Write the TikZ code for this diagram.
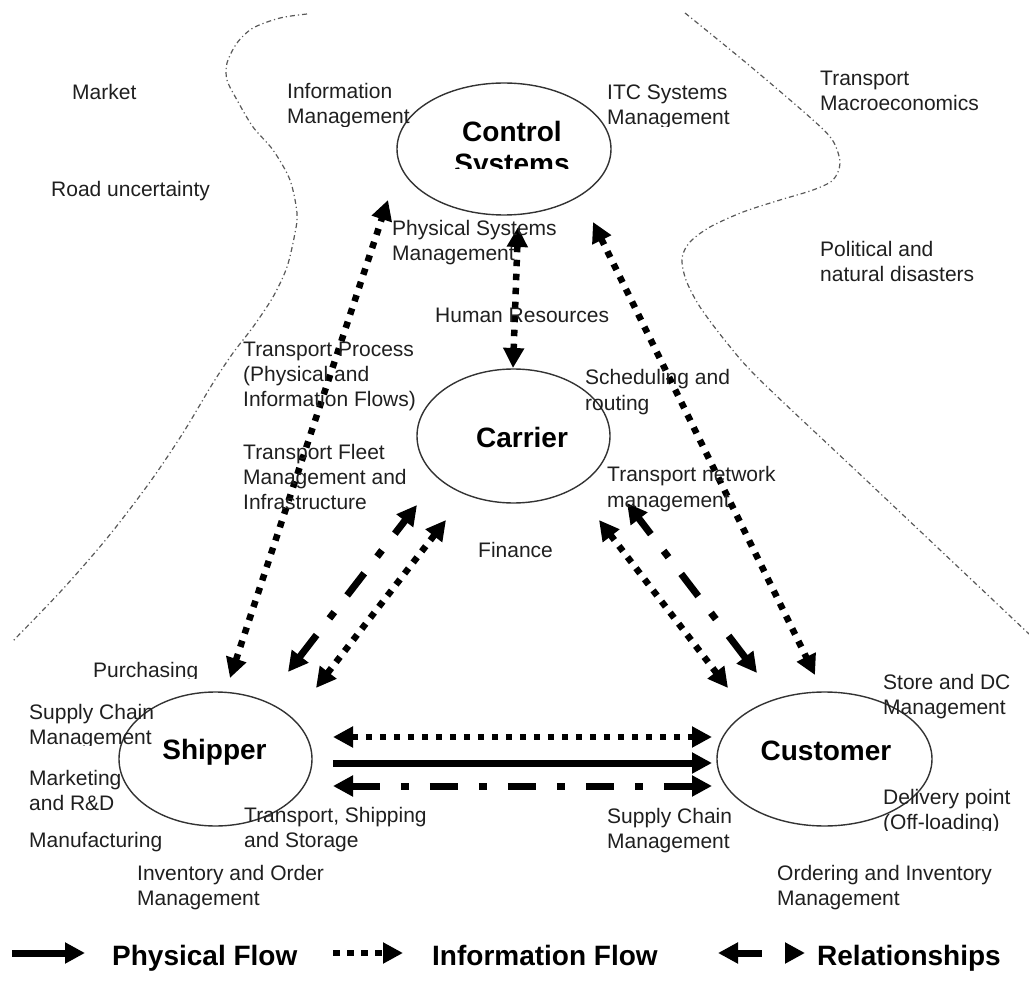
\documentclass[tikz,border=0pt]{standalone}
\usepackage{fontspec}
\setmainfont{Liberation Sans}
\usetikzlibrary{arrows.meta,shapes.geometric}
% multi-line labels whose baseline is that of the first line
\newcommand{\ml}[1]{\begin{tabular}[t]{@{}l@{}}#1\end{tabular}}
\newcommand{\mc}[1]{\begin{tabular}[t]{@{}c@{}}#1\end{tabular}}
\begin{document}
\begin{tikzpicture}[x=1pt,y=-1pt,
  >={Triangle[length=20pt,width=20pt]},
  lbl/.style={anchor=base west, inner sep=0pt, text=black!88, font=\fontsize{21}{25}\selectfont},
  big/.style={anchor=base, inner sep=0pt, font=\fontsize{28}{32}\selectfont\bfseries},
  legendtext/.style={anchor=base west, inner sep=0pt, font=\fontsize{28}{32}\selectfont\bfseries},
  actor/.style={draw=black!80, line width=1.4pt, ellipse, inner sep=0pt},
  boundary/.style={draw=black!65, line width=1.2pt, dash pattern=on 5pt off 3pt on 1.2pt off 3pt},
  info/.style={line width=6.5pt, dash pattern=on 6.5pt off 7.5pt},
  rel/.style={line width=7pt, dash pattern=on 28pt off 21pt on 8pt off 21pt},
  phys/.style={line width=7pt},
]
\useasboundingbox (0,0) rectangle (1029,1000);

% environment boundaries
\draw[boundary] plot[smooth] coordinates {(307,14) (280,18) (253,28) (237,43) (227,63) (227,80) (237,100) (253,127) (273,150) (290,180) (297,213) (295,233) (287,267) (273,297) (253,327) (233,353) (213,383) (183,433) (150,482) (108,537) (62,590) (12,642)};
\draw[boundary] plot[smooth] coordinates {(685,13) (750,66) (813,120) (833,141) (840,163) (833,180) (813,190) (780,200) (743,212) (710,227) (690,242) (682,258) (686,280) (700,307) (727,343) (760,380) (866,480) (1029,634)};

% actors
\node[actor, minimum width=214pt, minimum height=132pt] (control) at (504,149) {};
\node[actor, minimum width=193pt, minimum height=134pt] (carrier) at (513.5,436) {};
\node[actor, minimum width=193pt, minimum height=134pt] (shipper) at (215.5,759) {};
\node[actor, minimum width=215pt, minimum height=134pt] (customer) at (824.5,759) {};

\begin{scope}
  \clip (430,100) rectangle (600,169);
  \node[big] (controllbl) at (512,142) {\mc{Control\\Systems}};
\end{scope}
\node[big] (carrierlbl) at (522,448) {Carrier};
\node[big] (shipperlbl) at (214.5,759) {Shipper};
\node[big] (customerlbl) at (826,760) {Customer};

% connector end points
\coordinate (sc-s) at (230,678);  \coordinate (sc-c) at (388,200);
\coordinate (cr-c) at (518,227);  \coordinate (cr-r) at (513,368);
\coordinate (cu-c) at (593,222);  \coordinate (cu-u) at (815,675);
\coordinate (sr1-s) at (288,672); \coordinate (sr1-r) at (417,505);
\coordinate (sr2-s) at (316,688); \coordinate (sr2-r) at (446,520);
\coordinate (ru1-r) at (599,520); \coordinate (ru1-u) at (728,688);
\coordinate (ru2-r) at (627,503); \coordinate (ru2-u) at (757,673);
\coordinate (h1-s) at (333,737);  \coordinate (h1-u) at (712,737);
\coordinate (h2-s) at (333,763);  \coordinate (h2-u) at (712,763);
\coordinate (h3-s) at (333,786);  \coordinate (h3-u) at (712,786);

% flows
\draw[info, <->] (sc-s) -- (sc-c);
\draw[info, <->] (cr-c) -- (cr-r);
\draw[info, <->] (cu-c) -- (cu-u);
\draw[rel, <->] (sr1-s) -- (sr1-r);
\draw[info, <->] (sr2-s) -- (sr2-r);
\draw[info, <->] (ru1-r) -- (ru1-u);
\draw[rel, <->] (ru2-u) -- (ru2-r);
\draw[info, <->] (h1-s) -- (h1-u);
\draw[phys, ->] (h2-s) -- (h2-u);
\draw[rel, <->] (h3-s) -- (h3-u);

% labels
\node[lbl] (market) at (72,100) {Market};
\node[lbl] (road) at (51,197) {Road uncertainty};
\begin{scope}
  \clip (280,70) rectangle (420,127);
  \node[lbl] (infomgmt) at (287,99) {\ml{Information\\Management}};
\end{scope}
\begin{scope}
  \clip (600,70) rectangle (760,127);
  \node[lbl] (itc) at (607,100) {\ml{ITC Systems\\Management}};
\end{scope}
\node[lbl] (macro) at (820,86) {\ml{Transport\\Macroeconomics}};
\node[lbl] (political) at (820,257) {\ml{Political and\\natural disasters}};
\node[lbl] (physsys) at (392,236) {\ml{Physical Systems\\Management}};
\node[lbl] (hr) at (435,323) {Human Resources};
\node[lbl] (process) at (243,357) {\ml{Transport Process\\(Physical and\\Information Flows)}};
\node[lbl] (fleet) at (243,460) {\ml{Transport Fleet\\Management and\\Infrastructure}};
\node[lbl] (finance) at (478,557) {Finance};
\node[lbl] (sched) at (585,385) {\ml{Scheduling and\\routing}};
\node[lbl] (network) at (607,482) {\ml{Transport network\\management}};
\begin{scope}
  \clip (80,650) rectangle (220,678);
  \node[lbl] (purch) at (93,677) {Purchasing};
\end{scope}
\begin{scope}
  \clip (20,690) rectangle (170,745);
  \node[lbl] (scm1) at (29,719) {\ml{Supply Chain\\Management}};
\end{scope}
\node[lbl] (mkt) at (29,785) {\ml{Marketing\\and R\&D}};
\node[lbl] (manuf) at (29,847) {Manufacturing};
\node[lbl] (tss) at (244,822) {\ml{Transport, Shipping\\and Storage}};
\node[lbl] (inv) at (137,880) {\ml{Inventory and Order\\Management}};
\node[lbl] (scm2) at (607,823) {\ml{Supply Chain\\Management}};
\node[lbl] (store) at (883,689) {\ml{Store and DC\\Management}};
\begin{scope}
  \clip (870,780) rectangle (1029,830);
  \node[lbl] (delivery) at (883,804) {\ml{Delivery point\\(Off-loading)}};
\end{scope}
\node[lbl] (ordering) at (777,880) {\ml{Ordering and Inventory\\Management}};

% legend
\coordinate (lp-a) at (12,953);  \coordinate (lp-b) at (85,953);
\coordinate (li-a) at (333,953); \coordinate (li-b) at (403,953);
\coordinate (lr-a) at (718,953); \coordinate (lr-b) at (805,953);
\draw[phys, ->] (lp-a) -- (lp-b);
\draw[info, ->] (li-a) -- (li-b);
\draw[line width=7pt, dash pattern=on 25pt off 60pt, <->] (lr-a) -- (lr-b);
\node[legendtext] (lphys) at (112,965) {Physical Flow};
\node[legendtext] (linfo) at (432,965) {Information Flow};
\node[legendtext] (lrel) at (817,965) {Relationships};
\end{tikzpicture}
\end{document}
